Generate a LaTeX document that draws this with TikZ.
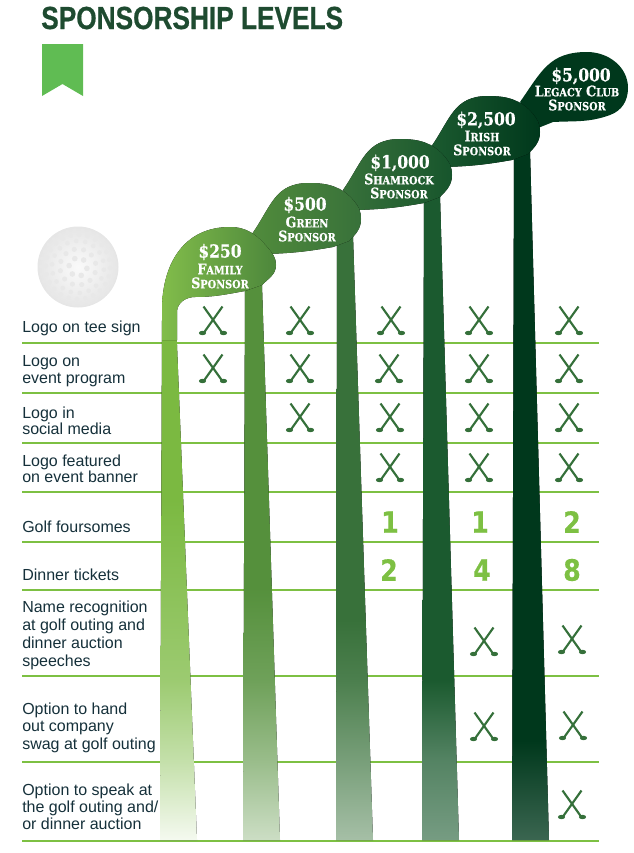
\documentclass[tikz,border=0pt]{standalone}
\usepackage{fontspec}
\usepackage{xcolor}
\usetikzlibrary{positioning}
\setmainfont{Liberation Sans}
\newfontfamily\titlefont[FakeStretch=0.82,FakeBold=0.6]{Liberation Sans}
\newfontfamily\headfont[FakeStretch=0.86,FakeBold=0.5]{DejaVu Serif}
\newfontfamily\countfont[FakeStretch=0.86,FakeBold=0.5]{DejaVu Sans}

\definecolor{titlegreen}{HTML}{1E4B30}
\definecolor{rulegreen}{HTML}{7DC043}
\definecolor{ribbongreen}{HTML}{60BC53}
\definecolor{iconGreen}{HTML}{35703A}
\definecolor{labelink}{HTML}{15303A}
\definecolor{clubone}{HTML}{7BB941}
\definecolor{clubtwo}{HTML}{55903C}
\definecolor{clubthree}{HTML}{38713A}
\definecolor{clubfour}{HTML}{1B5A2F}
\definecolor{clubfive}{HTML}{00381C}

\pgfdeclareverticalshading{shaftone}{100bp}{color(0bp)=(clubone!8!white); color(25bp)=(clubone!8!white); color(32.7bp)=(clubone!45!white); color(40.4bp)=(clubone!75!white); color(57.7bp)=(clubone); color(100bp)=(clubone)}
\pgfdeclareverticalshading{shafttwo}{100bp}{color(0bp)=(clubtwo!30!white); color(25bp)=(clubtwo!30!white); color(32.2bp)=(clubtwo!60!white); color(39.4bp)=(clubtwo!85!white); color(47.7bp)=(clubtwo); color(100bp)=(clubtwo)}
\pgfdeclareverticalshading{shaftthree}{100bp}{color(0bp)=(clubthree!45!white); color(25bp)=(clubthree!45!white); color(31.6bp)=(clubthree!68!white); color(38.2bp)=(clubthree!90!white); color(43.2bp)=(clubthree); color(100bp)=(clubthree)}
\pgfdeclareverticalshading{shaftfour}{100bp}{color(0bp)=(clubfour!60!white); color(25bp)=(clubfour!60!white); color(31.2bp)=(clubfour!75!white); color(37.4bp)=(clubfour); color(100bp)=(clubfour)}
\pgfdeclareverticalshading{shaftfive}{100bp}{color(0bp)=(clubfive!77!white); color(25bp)=(clubfive!77!white); color(32.2bp)=(clubfive); color(100bp)=(clubfive)}

\newcommand{\lvlcap}[2]{{\fontsize{11}{13}\selectfont #1}{\fontsize{8.5}{13}\selectfont #2}}

\tikzset{
    rowlabel/.style={anchor=west, inner sep=0pt, align=left, text=labelink, font=\fontsize{12}{12.8}\selectfont},
    amount/.style={inner sep=0pt, text=white, font=\headfont\bfseries\fontsize{13.5}{15}\selectfont},
    levelname/.style={inner sep=0pt, align=center, text=white, font=\headfont\bfseries\fontsize{11}{10.5}\selectfont},
    countnum/.style={inner sep=0pt, text=rulegreen, font=\countfont\bfseries\fontsize{22}{24}\selectfont},
    clubs/.pic={
        \draw[iconGreen, line width=1.6pt] (-9.5,-14.5) -- (9,11.5);
        \draw[iconGreen, line width=1.6pt] (9.5,-14.5) -- (-9,11.5);
        \fill[iconGreen] (10.5,12) ellipse (3.6 and 2.2);
        \fill[iconGreen] (-10.5,12) ellipse (3.6 and 2.2);
    }
}

\begin{document}
\begin{tikzpicture}[x=0.75pt,y=-0.75pt]
    \useasboundingbox (0,0) rectangle (633,853);

    \node[anchor=west, inner sep=0pt, text=titlegreen, font=\titlefont\bfseries\fontsize{24}{26}\selectfont] (title) at (41,18) {SPONSORSHIP LEVELS};
    \fill[ribbongreen] (42,44) -- (83,44) -- (83,96) -- (62.5,84) -- (42,96) -- cycle;

    \shade[inner color=black!2, outer color=black!10] (78,267) circle (40.5);
    \foreach \r/\n in {9/6,18/12,26/18,32/24,37/30} {
        \foreach \k in {1,...,\n} {
            \fill[black!9] ({\k*360/\n+\r}:\r) ++(78,267) circle ({3.1-\r*0.03});
        }
    }

    \foreach \rowy in {343,393,443,492,542,590,676,762,841} {
        \draw[rulegreen, line width=1.5pt] (22,\rowy) -- (599,\rowy);
    }

    \foreach \tl/\tr/\bl/\br/\ty/\sname in {
        162/176/160/197/320/shaftone,
        245/262/243/280/285/shafttwo,
        337/353/336/373/235/shaftthree,
        424/440/422/459/195/shaftfour,
        514/530/512/549/150/shaftfive} {
        \fill[shading=\sname] (\tl,\ty) -- (\tr,\ty) -- (\br,840) -- (\bl,840) -- cycle;
    }

    \fill[clubfive] (520,102) to[out=55,in=180,looseness=1.15] (587,52) to[out=0,in=90] (628,88) to[out=-90,in=20] (610,115) to[out=200,in=3] (553,122) -- (538,128) -- cycle;

    \foreach \hx/\hy/\cl/\cr in {
        88/-43/clubfour/clubfive,
        0/0/clubthree/clubfour!85!clubfive,
        -91/44/clubtwo!85!clubthree/clubthree} {
        \fill[left color=\cl, right color=\cr, shift={(\hx,\hy)}] (343,190) to[out=55,in=180,looseness=1.15] (400,139) to[out=0,in=130] (445,157) to[out=-50,in=90] (452,175) to[out=-90,in=45] (440,197) -- (424,203) to[out=190,in=2] (358,210) -- cycle;
    }

    \fill[left color=clubone!95!white, right color=clubtwo!70!clubthree] (162,340) -- (162,310) to[out=90,in=180,looseness=1.1] (230,227) to[out=0,in=130] (268,248) to[out=-50,in=90] (276,265) to[out=-90,in=45] (262,285) -- (245,291) to[out=190,in=0] (195,297) to[out=180,in=90] (177,312) -- (177,340) -- cycle;

    \node[amount] (amtfamily) at (220,252) {\$250};
    \node[levelname] (namefamily) at (220,276) {\lvlcap{F}{AMILY}\\\lvlcap{S}{PONSOR}};
    \node[amount] (amtgreen) at (305,205) {\$500};
    \node[levelname] (namegreen) at (307,229) {\lvlcap{G}{REEN}\\\lvlcap{S}{PONSOR}};
    \node[amount] (amtshamrock) at (400,163) {\$1,000};
    \node[levelname] (nameshamrock) at (399,186) {\lvlcap{S}{HAMROCK}\\\lvlcap{S}{PONSOR}};
    \node[amount] (amtirish) at (486,120) {\$2,500};
    \node[levelname] (nameirish) at (482,143) {\lvlcap{I}{RISH}\\\lvlcap{S}{PONSOR}};
    \node[amount] (amtlegacy) at (581,76) {\$5,000};
    \node[levelname] (namelegacy) at (577,98) {\lvlcap{L}{EGACY} \lvlcap{C}{LUB}\\\lvlcap{S}{PONSOR}};

    \node[rowlabel] (rowtee) at (22,328.5) {Logo on tee sign};
    \node[rowlabel] (rowprogram) at (22,371.5) {Logo on\\event program};
    \node[rowlabel, font=\fontsize{12}{12.2}\selectfont] (rowsocial) at (22,420.5) {Logo in\\social media};
    \node[rowlabel, font=\fontsize{12}{11.7}\selectfont] (rowbanner) at (22,469) {Logo featured\\on event banner};
    \node[rowlabel] (rowgolf) at (22,527) {Golf foursomes};
    \node[rowlabel] (rowdinner) at (22,575) {Dinner tickets};
    \node[rowlabel, font=\fontsize{12}{13.5}\selectfont] (rowname) at (22,635) {Name recognition\\at golf outing and\\dinner auction\\speeches};
    \node[rowlabel, font=\fontsize{12}{13.1}\selectfont] (rowswag) at (22,727.5) {Option to hand\\out company\\swag at golf outing};
    \node[rowlabel] (rowspeak) at (22,807) {Option to speak at\\the golf outing and/\\or dinner auction};

    \foreach \cx/\cy in {213/321,300/321,391/321,479/321,569/321,
        213/369,300/369,389/369,479/369,569/369,
        300/418,390/418,479/418,569/418,
        390/468,479/468,569/468,
        484/642,572/640,484/727,573/726,572/805} {
        \pic at (\cx,\cy) {clubs};
    }

    \node[countnum] (golfshamrock) at (390,522) {1};
    \node[countnum] (golfirish) at (480,522) {1};
    \node[countnum] (golflegacy) at (572,522) {2};
    \node[countnum] (dinnershamrock) at (389,570) {2};
    \node[countnum] (dinnerirish) at (482,570) {4};
    \node[countnum] (dinnerlegacy) at (572,570) {8};
\end{tikzpicture}
\end{document}
